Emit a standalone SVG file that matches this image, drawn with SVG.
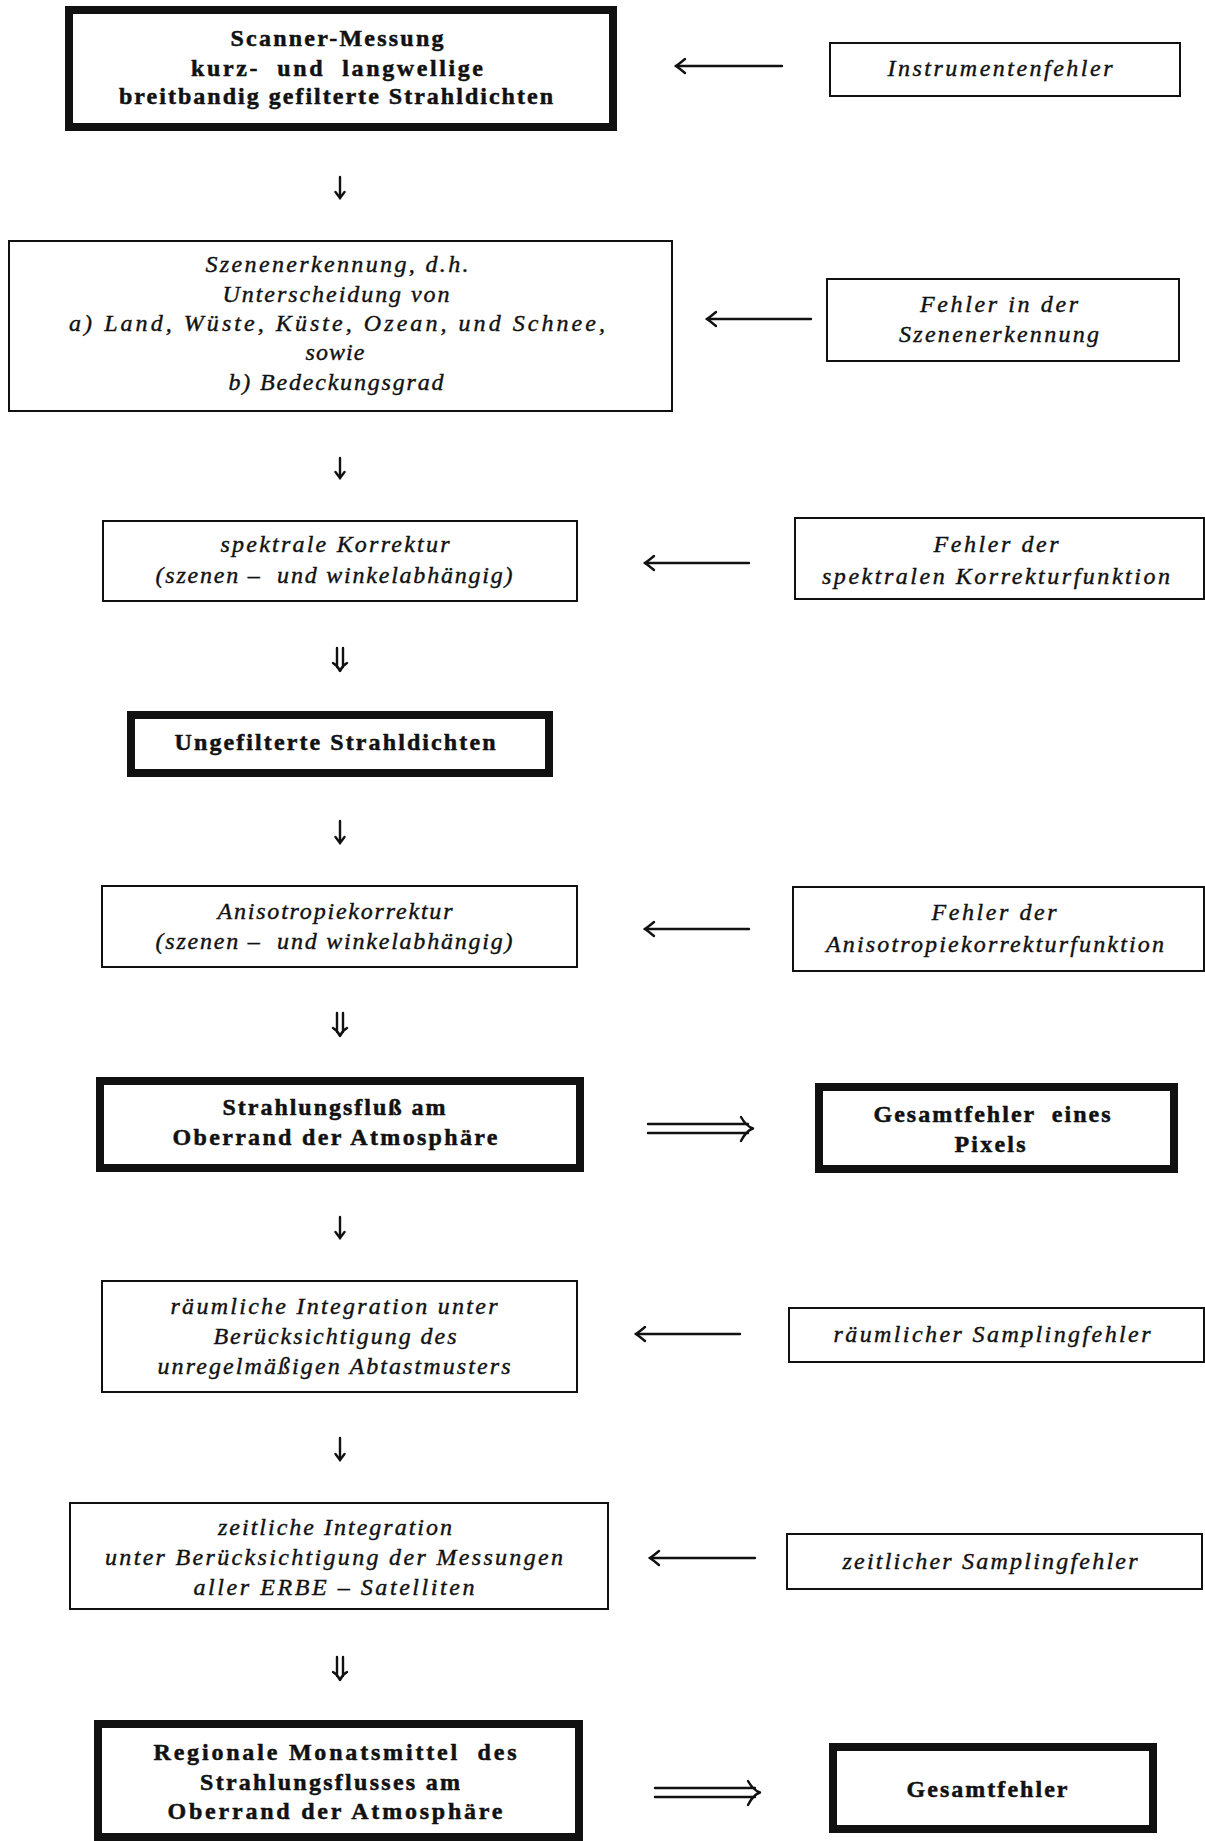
<svg xmlns="http://www.w3.org/2000/svg" width="1205" height="1841" viewBox="0 0 1205 1841">
<style>
  .thick { fill: none; stroke: #111; stroke-width: 8; }
  .thin { fill: none; stroke: #111; stroke-width: 2; }
  text { font-family: "Liberation Serif", "Times New Roman", serif; font-size: 24px; fill: #111; stroke: #111; stroke-width: 0.4; text-anchor: middle; }
  .b { font-weight: bold; stroke-width: 0.5; }
  .i { font-style: italic; }
  .arr { fill: none; stroke: #111; stroke-width: 2.4; stroke-linecap: round; stroke-linejoin: round; }
</style>
<defs>
  <marker id="head" markerUnits="userSpaceOnUse" orient="auto" refX="0" refY="0" overflow="visible">
    <path d="M -9 -7 Q -3 -2 0 0 Q -3 2 -9 7" fill="none" stroke="#111" stroke-width="2.4" stroke-linecap="round"/>
  </marker>
  <marker id="headS" markerUnits="userSpaceOnUse" orient="auto" refX="0" refY="0" overflow="visible">
    <path d="M -6 -4.5 Q -2 -1.5 0 0 Q -2 1.5 -6 4.5" fill="none" stroke="#111" stroke-width="2.4" stroke-linecap="round"/>
  </marker>
</defs>
<rect width="1205" height="1841" fill="#fff"/>

<g id="n-scanner">
  <rect class="thick" x="69" y="10" width="544" height="117"/>
  <text class="b" x="337" y="46" textLength="213" lengthAdjust="spacing">Scanner-Messung</text>
  <text class="b" x="337" y="76" textLength="292" lengthAdjust="spacing" xml:space="preserve">kurz-  und  langwellige</text>
  <text class="b" x="336" y="104" textLength="434" lengthAdjust="spacing">breitbandig gefilterte Strahldichten</text>
</g>
<g id="n-instrumentenfehler">
  <rect class="thin" x="830" y="43" width="350" height="53"/>
  <text class="i" x="1000" y="76" textLength="225" lengthAdjust="spacing">Instrumentenfehler</text>
</g>
<g id="n-szenenerkennung">
  <rect class="thin" x="9" y="241" width="663" height="170"/>
  <text class="i" x="337" y="272" textLength="263" lengthAdjust="spacing">Szenenerkennung, d.h.</text>
  <text class="i" x="336" y="302" textLength="227" lengthAdjust="spacing">Unterscheidung von</text>
  <text class="i" x="337" y="331" textLength="536" lengthAdjust="spacing">a) Land, Wüste, Küste, Ozean, und Schnee,</text>
  <text class="i" x="335" y="360" textLength="59" lengthAdjust="spacing">sowie</text>
  <text class="i" x="336" y="390" textLength="215" lengthAdjust="spacing">b) Bedeckungsgrad</text>
</g>
<g id="n-fehler-szenen">
  <rect class="thin" x="827" y="279" width="352" height="82"/>
  <text class="i" x="999" y="312" textLength="158" lengthAdjust="spacing">Fehler in der</text>
  <text class="i" x="999" y="342" textLength="200" lengthAdjust="spacing">Szenenerkennung</text>
</g>
<g id="n-spektral">
  <rect class="thin" x="103" y="521" width="474" height="80"/>
  <text class="i" x="335" y="552" textLength="229" lengthAdjust="spacing">spektrale Korrektur</text>
  <text class="i" x="334" y="583" textLength="357" lengthAdjust="spacing" xml:space="preserve">(szenen –  und winkelabhängig)</text>
</g>
<g id="n-fehler-spektral">
  <rect class="thin" x="795" y="518" width="409" height="81"/>
  <text class="i" x="996" y="552" textLength="125" lengthAdjust="spacing">Fehler der</text>
  <text class="i" x="996" y="584" textLength="348" lengthAdjust="spacing">spektralen Korrekturfunktion</text>
</g>
<g id="n-ungefiltert">
  <rect class="thick" x="131" y="715" width="418" height="58"/>
  <text class="b" x="335" y="750" textLength="321" lengthAdjust="spacing">Ungefilterte Strahldichten</text>
</g>
<g id="n-aniso">
  <rect class="thin" x="102" y="886" width="475" height="81"/>
  <text class="i" x="335" y="919" textLength="235" lengthAdjust="spacing">Anisotropiekorrektur</text>
  <text class="i" x="334" y="949" textLength="357" lengthAdjust="spacing" xml:space="preserve">(szenen –  und winkelabhängig)</text>
</g>
<g id="n-fehler-aniso">
  <rect class="thin" x="793" y="887" width="411" height="84"/>
  <text class="i" x="994" y="920" textLength="125" lengthAdjust="spacing">Fehler der</text>
  <text class="i" x="995" y="952" textLength="338" lengthAdjust="spacing">Anisotropiekorrekturfunktion</text>
</g>
<g id="n-strahlungsfluss">
  <rect class="thick" x="100" y="1081" width="480" height="87"/>
  <text class="b" x="334" y="1115" textLength="223" lengthAdjust="spacing">Strahlungsfluß am</text>
  <text class="b" x="335" y="1145" textLength="325" lengthAdjust="spacing">Oberrand der Atmosphäre</text>
</g>
<g id="n-gesamtfehler-pixel">
  <rect class="thick" x="819" y="1087" width="355" height="82"/>
  <text class="b" x="992" y="1122" textLength="237" lengthAdjust="spacing" xml:space="preserve">Gesamtfehler  eines</text>
  <text class="b" x="990" y="1152" textLength="71" lengthAdjust="spacing">Pixels</text>
</g>
<g id="n-raeumlich">
  <rect class="thin" x="102" y="1281" width="475" height="111"/>
  <text class="i" x="334" y="1314" textLength="327" lengthAdjust="spacing">räumliche Integration unter</text>
  <text class="i" x="335" y="1344" textLength="243" lengthAdjust="spacing">Berücksichtigung des</text>
  <text class="i" x="334" y="1374" textLength="353" lengthAdjust="spacing">unregelmäßigen Abtastmusters</text>
</g>
<g id="n-raeumlich-fehler">
  <rect class="thin" x="789" y="1308" width="415" height="54"/>
  <text class="i" x="992" y="1342" textLength="317" lengthAdjust="spacing">räumlicher Samplingfehler</text>
</g>
<g id="n-zeitlich">
  <rect class="thin" x="70" y="1503" width="538" height="106"/>
  <text class="i" x="335" y="1535" textLength="234" lengthAdjust="spacing">zeitliche Integration</text>
  <text class="i" x="334" y="1565" textLength="458" lengthAdjust="spacing">unter Berücksichtigung der Messungen</text>
  <text class="i" x="334" y="1595" textLength="281" lengthAdjust="spacing">aller ERBE – Satelliten</text>
</g>
<g id="n-zeitlich-fehler">
  <rect class="thin" x="787" y="1534" width="415" height="55"/>
  <text class="i" x="990" y="1569" textLength="295" lengthAdjust="spacing">zeitlicher Samplingfehler</text>
</g>
<g id="n-regional">
  <rect class="thick" x="98" y="1724" width="481" height="113"/>
  <text class="b" x="335" y="1760" textLength="363" lengthAdjust="spacing" xml:space="preserve">Regionale Monatsmittel  des</text>
  <text class="b" x="330" y="1790" textLength="260" lengthAdjust="spacing">Strahlungsflusses am</text>
  <text class="b" x="335" y="1819" textLength="335" lengthAdjust="spacing">Oberrand der Atmosphäre</text>
</g>
<g id="n-gesamtfehler">
  <rect class="thick" x="833" y="1747" width="320" height="82"/>
  <text class="b" x="987" y="1797" textLength="161" lengthAdjust="spacing">Gesamtfehler</text>
</g>

<g id="connectors">
  <path class="arr" d="M 782 66 L 676 66" marker-end="url(#head)"/>
  <path class="arr" d="M 811 319 L 707 319" marker-end="url(#head)"/>
  <path class="arr" d="M 749 563 L 645 563" marker-end="url(#head)"/>
  <path class="arr" d="M 749 929 L 645 929" marker-end="url(#head)"/>
  <path class="arr" d="M 740 1334 L 636 1334" marker-end="url(#head)"/>
  <path class="arr" d="M 755 1558 L 650 1558" marker-end="url(#head)"/>
  <path class="arr" d="M 340 177 L 340 198" marker-end="url(#headS)"/>
  <path class="arr" d="M 340 458 L 340 478" marker-end="url(#headS)"/>
  <path class="arr" d="M 340 821 L 340 843" marker-end="url(#headS)"/>
  <path class="arr" d="M 340 1217 L 340 1238" marker-end="url(#headS)"/>
  <path class="arr" d="M 340 1438 L 340 1460" marker-end="url(#headS)"/>
  <path class="arr" d="M 337 648 L 337 667 M 343 648 L 343 667 M 333 663 Q 338 666 340 671 Q 342 666 347 663"/>
  <path class="arr" d="M 337 1013 L 337 1032 M 343 1013 L 343 1032 M 333 1028 Q 338 1031 340 1036 Q 342 1031 347 1028"/>
  <path class="arr" d="M 337 1657 L 337 1676 M 343 1657 L 343 1676 M 333 1672 Q 338 1675 340 1680 Q 342 1675 347 1672"/>
  <path class="arr" d="M 648 1124 L 748 1124 M 648 1133 L 748 1133 M 741 1117 Q 746 1126 753 1128.5 Q 746 1131 741 1141"/>
  <path class="arr" d="M 655 1788 L 755 1788 M 655 1797 L 755 1797 M 748 1781 Q 753 1790 760 1792.5 Q 753 1795 748 1805"/>
</g>
</svg>
